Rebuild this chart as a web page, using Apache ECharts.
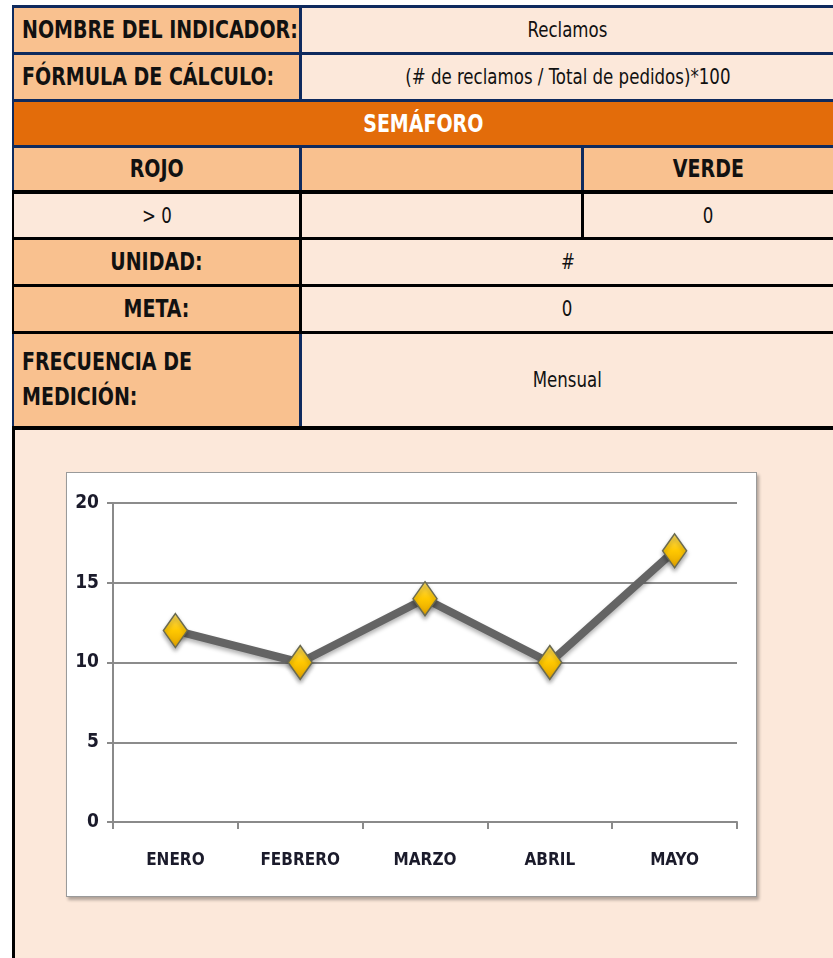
<!DOCTYPE html>
<html>
<head>
<meta charset="utf-8">
<script src="https://cdn.jsdelivr.net/npm/echarts@6/dist/echarts.min.js"></script>
<style>
  html, body { margin: 0; padding: 0; background: #fff; width: 833px; height: 958px; overflow: hidden; }
  body { position: relative; font-family: "Liberation Sans Narrow", "DejaVu Sans Condensed", "Arial Narrow", sans-serif; }
  .ln { position: absolute; }
  .cell { position: absolute; display: flex; align-items: center; box-sizing: border-box; color: #111; white-space: nowrap; }
  .lab { background: #F9C18F; font-weight: bold; font-size: 24px; }
  .val { background: #FCE8DA; font-size: 21px; justify-content: center; }
  .c { justify-content: center; }
  .l { padding-left: 8px; }
  .t { display: inline-block; transform: scaleX(0.88); transform-origin: center; }
  .l .t { transform-origin: left center; }
  #box { position: absolute; left: 66px; top: 472px; width: 691px; height: 425px; background: #fff;
         border: 1px solid #9a9a9a; box-sizing: border-box; box-shadow: 2px 3px 3px rgba(0,0,0,0.3); }
  #chart { width: 100%; height: 100%; }
</style>
</head>
<body>
<!-- table cells -->
<div class="cell lab l" style="left:14px;top:8px;width:285px;height:44px;"><span class="t">NOMBRE DEL INDICADOR:</span></div>
<div class="cell val" style="left:302px;top:8px;width:531px;height:44px;"><span class="t">Reclamos</span></div>
<div class="cell lab l" style="left:14px;top:55px;width:285px;height:44px;"><span class="t">FÓRMULA DE CÁLCULO:</span></div>
<div class="cell val" style="left:302px;top:55px;width:531px;height:44px;"><span class="t">(# de reclamos / Total de pedidos)*100</span></div>
<div class="cell c" style="left:14px;top:102px;width:819px;height:43px;background:#E36C0A;color:#fff;font-weight:bold;font-size:24px;"><span class="t">SEMÁFORO</span></div>
<div class="cell lab c" style="left:14px;top:148px;width:285px;height:42px;"><span class="t">ROJO</span></div>
<div class="cell lab" style="left:302px;top:148px;width:279px;height:42px;"></div>
<div class="cell lab c" style="left:584px;top:148px;width:249px;height:42px;"><span class="t">VERDE</span></div>
<div class="cell val" style="left:14px;top:194px;width:285px;height:43px;"><span class="t">&gt; 0</span></div>
<div class="cell val" style="left:302px;top:194px;width:279px;height:43px;"></div>
<div class="cell val" style="left:584px;top:194px;width:249px;height:43px;"><span class="t">0</span></div>
<div class="cell lab c" style="left:14px;top:240px;width:285px;height:44px;"><span class="t">UNIDAD:</span></div>
<div class="cell val" style="left:302px;top:240px;width:531px;height:44px;"><span class="t">#</span></div>
<div class="cell lab c" style="left:14px;top:287px;width:285px;height:44px;"><span class="t">META:</span></div>
<div class="cell val" style="left:302px;top:287px;width:531px;height:44px;"><span class="t">0</span></div>
<div class="cell lab l" style="left:14px;top:334px;width:285px;height:92px;line-height:1.45;"><span class="t">FRECUENCIA DE<br>MEDICIÓN:</span></div>
<div class="cell val" style="left:302px;top:334px;width:531px;height:92px;"><span class="t">Mensual</span></div>
<div class="cell" style="left:14px;top:430px;width:819px;height:528px;background:#FCE8DA;"></div>

<!-- border lines -->
<div class="ln" style="left:12px;top:5px;width:821px;height:3px;background:#0E2A5E;"></div>
<div class="ln" style="left:12px;top:52px;width:821px;height:3px;background:#0E2A5E;"></div>
<div class="ln" style="left:12px;top:99px;width:821px;height:3px;background:#0E2A5E;"></div>
<div class="ln" style="left:12px;top:145px;width:821px;height:3px;background:#0E2A5E;"></div>
<div class="ln" style="left:12px;top:190px;width:821px;height:4px;background:#000;"></div>
<div class="ln" style="left:12px;top:237px;width:821px;height:3px;background:#000;"></div>
<div class="ln" style="left:12px;top:284px;width:821px;height:3px;background:#000;"></div>
<div class="ln" style="left:12px;top:331px;width:821px;height:3px;background:#000;"></div>
<div class="ln" style="left:12px;top:426px;width:821px;height:4px;background:#000;"></div>
<div class="ln" style="left:12px;top:5px;width:2px;height:185px;background:#0E2A5E;"></div>
<div class="ln" style="left:12px;top:190px;width:2px;height:144px;background:#000;"></div>
<div class="ln" style="left:12px;top:334px;width:2px;height:92px;background:#0E2A5E;"></div>
<div class="ln" style="left:12px;top:426px;width:3px;height:532px;background:#000;"></div>
<div class="ln" style="left:299px;top:5px;width:3px;height:97px;background:#0E2A5E;"></div>
<div class="ln" style="left:299px;top:145px;width:3px;height:45px;background:#0E2A5E;"></div>
<div class="ln" style="left:299px;top:190px;width:3px;height:144px;background:#000;"></div>
<div class="ln" style="left:299px;top:334px;width:3px;height:92px;background:#0E2A5E;"></div>
<div class="ln" style="left:581px;top:145px;width:3px;height:45px;background:#0E2A5E;"></div>
<div class="ln" style="left:581px;top:190px;width:3px;height:47px;background:#000;"></div>

<div id="box"><div id="chart"></div></div>

<script>
// datos del gráfico
const meses = ["ENERO", "FEBRERO", "MARZO", "ABRIL", "MAYO"];
const reclamos = [12, 10, 14, 10, 17];

const option = {
  animation: false,
  grid: { left: 46, top: 30, right: 19, bottom: 74 },
  xAxis: {
    type: "category",
    data: meses,
    boundaryGap: true,
    axisLine: { lineStyle: { color: "#8a8a8a", width: 2 } },
    axisTick: { show: true, length: 7, lineStyle: { color: "#8a8a8a", width: 2 } },
    axisLabel: {
      margin: 30,
      color: "#1b1b2b",
      fontWeight: "bold",
      fontSize: 17,
      fontFamily: "Liberation Sans Narrow, DejaVu Sans Condensed, sans-serif"
    }
  },
  yAxis: {
    type: "value",
    min: 0,
    max: 20,
    interval: 5,
    axisLine: { show: true, lineStyle: { color: "#8a8a8a", width: 2 } },
    axisTick: { show: true, length: 6, lineStyle: { color: "#8a8a8a", width: 2 } },
    splitLine: { lineStyle: { color: "#8c8c8c", width: 2 } },
    axisLabel: {
      margin: 14,
      color: "#1b1b2b",
      fontWeight: "bold",
      fontSize: 19,
      fontFamily: "Liberation Sans Narrow, DejaVu Sans Condensed, sans-serif"
    }
  },
  series: [{
    type: "line",
    data: reclamos,
    symbol: "diamond",
    symbolSize: [24, 34],
    lineStyle: {
      color: "#646464",
      width: 8,
      shadowColor: "rgba(0,0,0,0.3)",
      shadowBlur: 4,
      shadowOffsetY: 3
    },
    itemStyle: {
      color: new echarts.graphic.LinearGradient(0, 0, 0, 1, [
        { offset: 0, color: "#FFE066" },
        { offset: 0.5, color: "#FFC800" },
        { offset: 1, color: "#E0A000" }
      ]),
      borderColor: "#6a6a50",
      borderWidth: 1.5,
      shadowColor: "rgba(0,0,0,0.35)",
      shadowBlur: 4,
      shadowOffsetY: 3
    }
  }]
};

const myChart = echarts.init(document.getElementById("chart"));
myChart.setOption(option);
</script>
</body>
</html>
